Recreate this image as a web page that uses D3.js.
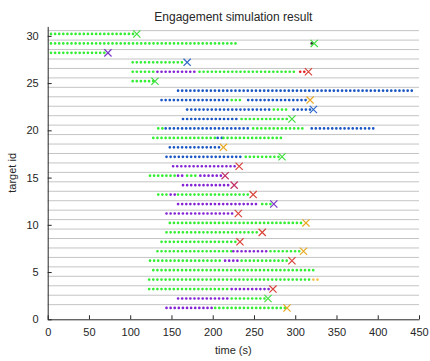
<!DOCTYPE html>
<html>
<head>
<meta charset="utf-8">
<script src="https://cdn.jsdelivr.net/npm/d3@7"></script>
<style>
  body { margin: 0; background: #fff; }
  svg text { font-family: "Liberation Sans", Arial, sans-serif; fill: #262626; }
</style>
</head>
<body>
<div id="chart"></div>
<script>
var SIM = SIM || { };

// row ids shown on the y axis
const targetIds = [1, 2, 3, 4, 5, 6, 7, 8, 9, 10, 11, 12, 13, 14, 15,
                   16, 17, 18, 19, 20, 21, 22, 23, 24, 25, 26, 27, 28, 29, 30];
const xTicks = [0, 50, 100, 150, 200, 250, 300, 350, 400, 450];
const yTicks = [0, 5, 10, 15, 20, 25, 30];

// dotted track segments: [target id, state, start time, end time]
const segId    = [30, 29, 29, 28, 27, 26, 26, 26, 26, 25, 24, 23, 23, 23, 22, 22, 22, 21, 21,
                  20, 20, 20, 20, 19, 19, 19, 18, 17, 17, 16, 15, 15, 15, 15, 14, 13, 13, 13,
                  12, 12, 11, 10, 9, 8, 7, 7, 7, 6, 6, 6, 5, 4, 4, 3, 3, 2, 2, 1, 1];
const segState = ["g", "g", "d", "g", "g", "g", "p", "g", "r", "g", "b", "b", "g", "b", "b", "g", "b", "b", "g",
                  "g", "b", "g", "b", "g", "b", "g", "b", "b", "g", "p", "g", "p", "g", "p", "p", "g", "p", "g",
                  "p", "g", "p", "g", "g", "g", "g", "p", "g", "g", "p", "g", "g", "g", "o", "g", "p", "p", "g", "p", "g"];
const segStart = [4, 4, 320, 4, 103, 103, 133, 184, 306, 103, 158, 138, 223, 243, 169, 274, 298, 164, 235,
                  134, 143, 249, 320, 128, 206, 213, 148, 144, 240, 152, 124, 158, 169, 185, 164, 134, 149, 158,
                  158, 260, 144, 148, 144, 138, 133, 225, 270, 124, 215, 235, 128, 123, 322, 123, 223, 158, 223, 144, 203];
const segEnd   = [106, 232, 320, 70, 164, 131, 182, 302, 311, 128, 443, 221, 236, 316, 273, 292, 318, 233, 292,
                  142, 247, 312, 398, 204, 211, 284, 211, 237, 282, 229, 157, 167, 182, 214, 223, 146, 157, 247,
                  257, 270, 227, 310, 257, 229, 223, 266, 306, 211, 231, 292, 324, 320, 328, 221, 270, 221, 266, 201, 288];

// end-of-track markers: [target id, time, state]
const endId    = [30, 29, 28, 27, 26, 25, 23, 22, 21, 18, 17, 16, 15, 14, 13, 12, 11, 10, 9, 8, 7, 6, 3, 2, 1];
const endTime  = [108, 323, 73, 169, 316, 130, 318, 322, 296, 213, 284, 232, 215, 226, 249, 274, 231, 313, 260, 233, 310, 296, 273, 267, 290];
const endState = ["g", "g", "p", "b", "r", "g", "o", "b", "g", "o", "g", "r", "m", "m", "r", "p", "r", "o", "r", "r", "o", "r", "r", "g", "o"];

SIM.SETTINGS = {
    width: 430,
    height: 361,
    margins: {top: 26.4, right: 11, bottom: 41.7, left: 47.7},
    dotColors: {g: "#33ee33", p: "#8424d4", b: "#1a56c4", r: "#e52222", o: "#f5c04a", d: "#333333"},
    markColors: {g: "#40e040", p: "#7a38c8", b: "#2a66c8", r: "#d9433a", m: "#c0306a", o: "#e8a820"},
    dotGap: 4.1,
    rowOffset: 0.2,
    gridOffset: 0.55
};

SIM.GRAPH = {
    makeSVG: function(elem, width, height){
        return d3.select(elem)
            .append("svg")
            .attr("width", width)
            .attr("height", height);
    },

    //dotted segment drawn as a round-capped dashed line
    drawTracks: function(g, data, x, y){
        const s = SIM.SETTINGS;
        return g.selectAll("line.track")
            .data(data)
            .join("line")
            .attr("class", "track")
            .attr("x1", d => x(d.t0))
            .attr("x2", d => x(d.t1) + 0.01)
            .attr("y1", d => y(d.id + s.rowOffset))
            .attr("y2", d => y(d.id + s.rowOffset))
            .attr("stroke", d => s.dotColors[d.state])
            .attr("stroke-width", 2.7)
            .attr("stroke-linecap", "round")
            .attr("stroke-dasharray", "0," + s.dotGap);
    },

    drawCrosses: function(g, data, x, y){
        const s = SIM.SETTINGS;
        const r = 3.6;
        return g.selectAll("path.cross")
            .data(data)
            .join("path")
            .attr("class", "cross")
            .attr("d", d => {
                const cx = x(d.t), cy = y(d.id + s.rowOffset);
                return `M${cx - r},${cy - r}L${cx + r},${cy + r}M${cx - r},${cy + r}L${cx + r},${cy - r}`;
            })
            .attr("fill", "none")
            .attr("stroke", d => s.markColors[d.state])
            .attr("stroke-width", 1.2);
    }
};

(function(){
    const s = SIM.SETTINGS;
    const m = s.margins;
    const svg = SIM.GRAPH.makeSVG("#chart", s.width, s.height);

    const x = d3.scaleLinear().domain([0, 450]).range([m.left, s.width - m.right]);
    const y = d3.scaleLinear().domain([0, 31]).range([s.height - m.bottom, m.top]);

    const tracks = segId.map((id, i) => ({id: id, state: segState[i], t0: segStart[i], t1: segEnd[i]}));
    const ends = endId.map((id, i) => ({id: id, t: endTime[i], state: endState[i]}));

    //row separator lines
    svg.append("g").selectAll("line")
        .data(targetIds)
        .join("line")
        .attr("x1", x(0))
        .attr("x2", x(450))
        .attr("y1", d => y(d + s.gridOffset))
        .attr("y2", d => y(d + s.gridOffset))
        .attr("stroke", "#c4c4c4")
        .attr("stroke-width", 1);

    const plot = svg.append("g");
    SIM.GRAPH.drawTracks(plot, tracks, x, y);
    SIM.GRAPH.drawCrosses(plot, ends, x, y);

    //axes, matlab style ticks pointing inward
    const xAxis = svg.append("g")
        .attr("transform", `translate(0,${y(0)})`)
        .call(d3.axisBottom(x).tickValues(xTicks).tickSizeInner(-4).tickSizeOuter(0).tickPadding(9));
    const yAxis = svg.append("g")
        .attr("transform", `translate(${x(0)},0)`)
        .call(d3.axisLeft(y).tickValues(yTicks).tickSizeInner(-4).tickSizeOuter(0).tickPadding(9));

    [xAxis, yAxis].forEach(a => {
        a.select(".domain").attr("stroke", "#262626");
        a.selectAll(".tick line").attr("stroke", "#262626");
        a.selectAll(".tick text").style("font-size", "11px").style("fill", "#262626");
    });

    svg.append("text")
        .attr("x", (x(0) + x(450)) / 2)
        .attr("y", 21)
        .attr("text-anchor", "middle")
        .style("font-size", "12px")
        .text("Engagement simulation result");

    svg.append("text")
        .attr("x", (x(0) + x(450)) / 2)
        .attr("y", 354)
        .attr("text-anchor", "middle")
        .style("font-size", "11px")
        .text("time (s)");

    svg.append("text")
        .attr("transform", "rotate(-90)")
        .attr("x", -(y(0) + y(31)) / 2)
        .attr("y", 16)
        .attr("text-anchor", "middle")
        .style("font-size", "11px")
        .text("target id");
})();
</script>
</body>
</html>
